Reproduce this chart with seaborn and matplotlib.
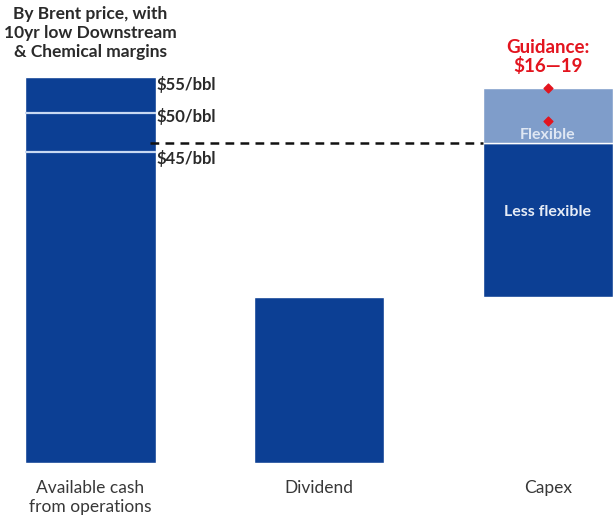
import matplotlib
matplotlib.use("Agg")
import matplotlib.pyplot as plt
import seaborn as sns
import pandas as pd

# values in $bn
categories = ["Available cash\nfrom operations", "Dividend", "Capex"]
brent_labels = ["$45/bbl", "$50/bbl", "$55/bbl"]
cash_by_brent = [28.3, 31.8, 35.1]
dividend = 15.1
capex_less_flexible = 14.0
capex_flexible = 5.0
guidance = [16, 19]

dark_blue = "#0c3f94"
light_blue = "#7f9dca"
red = "#e3141e"
text_grey = "#2a2a2a"

sns.set_theme(style="white")
plt.rcParams["font.family"] = ["Lato", "DejaVu Sans"]

fig = plt.figure(figsize=(6.13, 5.18), dpi=100)
ax = fig.add_axes([0, 0.106, 1, 0.894])

df = pd.DataFrame({"cat": categories[:2], "value": [cash_by_brent[-1], dividend]})
sns.barplot(data=df, x="cat", y="value", order=categories, color=dark_blue,
            saturation=1, width=0.57, ax=ax)

# capex stacked on top of the dividend
ax.bar(2, capex_less_flexible, bottom=dividend, width=0.57, color=dark_blue)
ax.bar(2, capex_flexible, bottom=dividend + capex_less_flexible, width=0.57,
       color=light_blue)

# brent price levels inside the cash bar
for lvl in cash_by_brent[:2]:
    ax.hlines(lvl, -0.285, 0.285, color="#c9d9f2", lw=1.6)

ax.text(0.29, cash_by_brent[2] - 0.7, brent_labels[2], fontsize=12, fontweight="bold",
        color=text_grey, va="center", ha="left")
ax.text(0.29, cash_by_brent[1] - 0.3, brent_labels[1], fontsize=12, fontweight="bold",
        color=text_grey, va="center", ha="left")
ax.text(0.29, cash_by_brent[0] - 0.6, brent_labels[0], fontsize=12, fontweight="bold",
        color=text_grey, va="center", ha="left")

# dashed line at dividend + less-flexible capex
ax.hlines(dividend + capex_less_flexible, 0.26, 1.715, color="#111111", lw=1.8,
          linestyles=(0, (3.5, 2.5)))

# guidance diamonds
ax.scatter([2, 2], [dividend + g for g in guidance], marker="D", s=20, color=red,
           zorder=5)
ax.text(2, 36.9, "Guidance:\n$16\u201419", ha="center", va="center", fontsize=13.5,
        fontweight="bold", color=red, linespacing=1.1)

ax.text(2, dividend + capex_less_flexible + 0.75, "Flexible", ha="center", va="center",
        fontsize=11.5, fontweight="bold", color="#dfe7f3")
ax.text(2, 22.8, "Less flexible", ha="center", va="center", fontsize=11.5,
        fontweight="bold", color="#e6ecf6")

ax.text(0, 41.5, "By Brent price, with\n10yr low Downstream\n& Chemical margins",
        ha="center", va="top", fontsize=12.5, fontweight="bold", color=text_grey,
        linespacing=1.2)

ax.set_xlim(-0.396, 2.285)
ax.set_ylim(0, 42.09)
ax.set_xlabel("")
ax.set_ylabel("")
ax.set_yticks([])
ax.tick_params(axis="x", length=0, pad=12, labelsize=12.5, labelcolor="#383838")
for lab in ax.get_xticklabels():
    lab.set_linespacing(1.25)
sns.despine(ax=ax, left=True, bottom=True)

fig.savefig("out.png", dpi=100)
